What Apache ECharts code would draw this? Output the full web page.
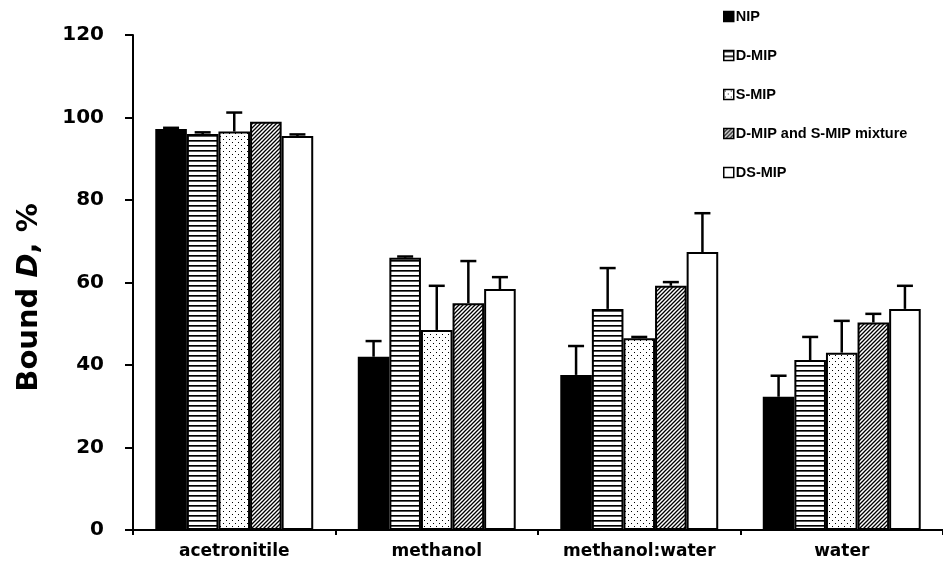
<!DOCTYPE html>
<html>
<head>
<meta charset="utf-8">
<script src="https://cdn.jsdelivr.net/npm/echarts@6/dist/echarts.min.js"></script>
<style>
  html, body { margin: 0; padding: 0; background: #fff; }
  #chart { width: 943px; height: 572px; }
</style>
</head>
<body>
<div id="chart"></div>
<script>
// Solvent categories and series
const categories = ['acetronitile', 'methanol', 'methanol:water', 'water'];
const seriesNames = ['NIP', 'D-MIP', 'S-MIP', 'D-MIP and S-MIP mixture', 'DS-MIP'];

// Bound D (%) per solvent
const nip   = [97.2, 42.0, 37.6, 32.3];
const dmip  = [96.0, 66.0, 53.6, 41.2];
const smip  = [96.6, 48.5, 46.5, 43.0];
const mix   = [99.0, 55.0, 59.2, 50.3];
const dsmip = [95.5, 58.4, 67.4, 53.6];

// Upper error (standard deviation) per solvent
const nipErr   = [0.3, 3.8, 7.0, 5.1];
const dmipErr  = [0.4, 0.3, 9.9, 5.6];
const smipErr  = [4.6, 10.7, 0.3, 7.7];
const mixErr   = [0.0, 10.2, 0.9, 2.1];
const dsmipErr = [0.4, 2.9, 9.4, 5.6];

const yTicks = [0, 20, 40, 60, 80, 100, 120];

const values = [nip, dmip, smip, mix, dsmip];
const errors = [nipErr, dmipErr, smipErr, mixErr, dsmipErr];

// Fill patterns for monochrome bars
function makePattern(w, h, draw) {
  const c = document.createElement('canvas');
  c.width = w; c.height = h;
  const ctx = c.getContext('2d');
  ctx.fillStyle = '#fff';
  ctx.fillRect(0, 0, w, h);
  ctx.fillStyle = '#000';
  ctx.strokeStyle = '#000';
  draw(ctx);
  return { image: c, repeat: 'repeat' };
}
const stripes = makePattern(4, 5, ctx => {
  ctx.fillRect(0, 0, 4, 1);
  ctx.fillStyle = '#555';
  ctx.fillRect(0, 1, 4, 1);
});
const dots = makePattern(6, 6, ctx => {
  ctx.fillRect(1, 1, 1, 1);
  ctx.fillRect(4, 4, 1, 1);
});
const hatch = makePattern(4, 4, ctx => {
  ctx.lineWidth = 1.3;
  ctx.beginPath();
  ctx.moveTo(-1, 5); ctx.lineTo(5, -1);
  ctx.moveTo(-1, 1); ctx.lineTo(1, -1);
  ctx.moveTo(3, 5); ctx.lineTo(5, 3);
  ctx.stroke();
});
const fills = ['#000', stripes, dots, hatch, '#fff'];

const GAP = 0.22;
const axisFont = '"DejaVu Sans", Verdana, sans-serif';
const legendFont = '"Liberation Sans", Arial, sans-serif';

const barSeries = seriesNames.map((name, i) => ({
  name: name,
  type: 'bar',
  data: values[i],
  barGap: '0%',
  barCategoryGap: (GAP * 100) + '%',
  itemStyle: { color: fills[i], borderColor: '#000', borderWidth: 2 },
  z: 2
}));

// Upper error bars placed on top of each bar
const errSeries = seriesNames.map((name, i) => ({
  type: 'custom',
  name: name + ' err',
  data: values[i].map((v, k) => [k, v, v + errors[i][k]]),
  encode: { x: 0, y: [1, 2] },
  z: 3,
  silent: true,
  renderItem: function (params, api) {
    const k = api.value(0);
    const lo = api.value(1);
    const hi = api.value(2);
    if (hi - lo <= 0) return null;
    const band = api.size([1, 0])[0];
    const bw = band * (1 - GAP) / seriesNames.length;
    const base = api.coord([k, lo]);
    const top = api.coord([k, hi]);
    const x = base[0] + (i - (seriesNames.length - 1) / 2) * bw;
    const cap = 8;
    return {
      type: 'group',
      children: [
        { type: 'line', shape: { x1: x, y1: base[1], x2: x, y2: top[1] },
          style: { stroke: '#000', lineWidth: 2.5 } },
        { type: 'line', shape: { x1: x - cap, y1: top[1], x2: x + cap, y2: top[1] },
          style: { stroke: '#000', lineWidth: 2.5 } }
      ]
    };
  }
}));

const chart = echarts.init(document.getElementById('chart'), null, { renderer: 'canvas' });
chart.setOption({
  backgroundColor: '#fff',
  animation: false,
  grid: { left: 133, right: 0, top: 35, bottom: 42 },
  legend: {
    data: seriesNames,
    orient: 'vertical',
    left: 718,
    top: 4,
    itemWidth: 10,
    itemHeight: 10,
    itemGap: 24,
    icon: 'rect',
    itemStyle: { borderColor: '#000', borderWidth: 1.5 },
    textStyle: { fontFamily: legendFont, fontWeight: 'bold', fontSize: 14.5, color: '#000', padding: [0, 0, 0, -3] }
  },
  xAxis: {
    type: 'category',
    data: categories,
    axisLine: { lineStyle: { color: '#000', width: 2 } },
    axisTick: { show: true, length: 5, lineStyle: { color: '#000', width: 2 } },
    axisLabel: { fontFamily: axisFont, fontWeight: 'bold', fontSize: 17, color: '#000', margin: 13 },
    splitLine: { show: false }
  },
  yAxis: {
    type: 'value',
    min: yTicks[0],
    max: yTicks[yTicks.length - 1],
    interval: 20,
    name: '{a|Bound }{b|D}{a|, %}',
    nameLocation: 'middle',
    nameRotate: 90,
    nameGap: 89,
    nameTextStyle: {
      padding: [0, 30, 0, 0],
      rich: {
        a: { fontFamily: axisFont, fontWeight: 'bold', fontSize: 29, color: '#000' },
        b: { fontFamily: axisFont, fontWeight: 'bold', fontStyle: 'italic', fontSize: 29, color: '#000' }
      }
    },
    axisLine: { show: true, lineStyle: { color: '#000', width: 2 } },
    axisTick: { show: true, length: 8, lineStyle: { color: '#000', width: 2 } },
    axisLabel: { fontFamily: axisFont, fontWeight: 'bold', fontSize: 20, color: '#000', margin: 29 },
    splitLine: { show: false }
  },
  series: barSeries.concat(errSeries)
});
</script>
</body>
</html>
